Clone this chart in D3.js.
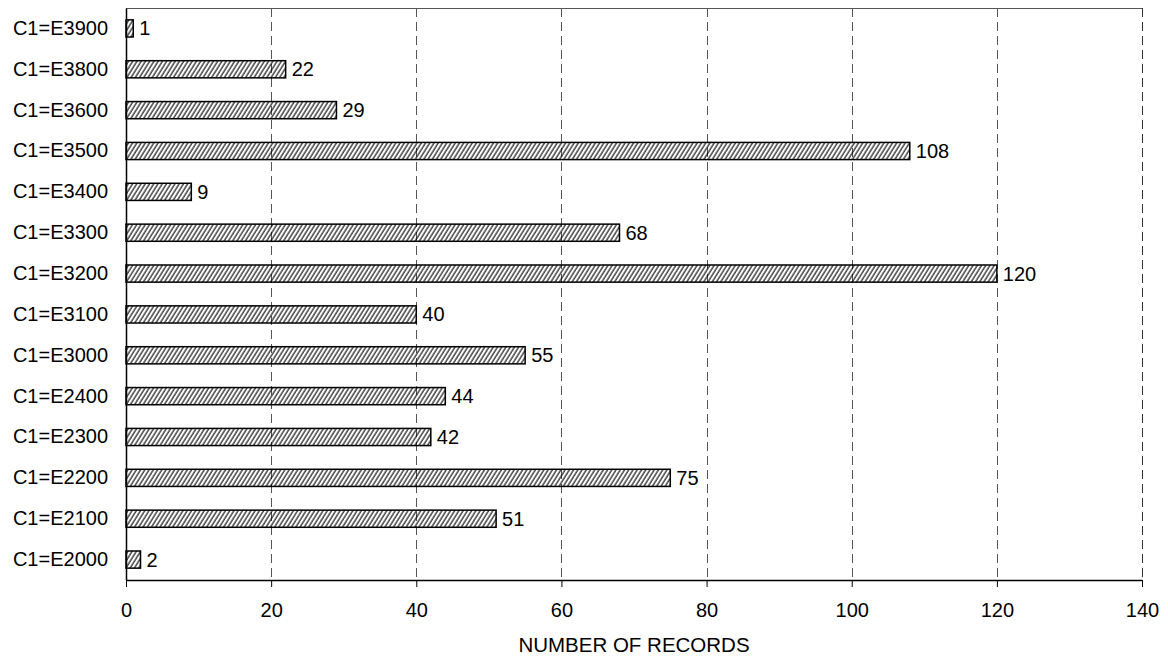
<!DOCTYPE html>
<html lang="en">
<head>
    <meta charset="UTF-8">
    <title>Records</title>
    <script src="https://d3js.org/d3.v7.min.js"></script>
    <style>
        body { margin: 0; background: #fff; }
        text { font-family: "Liberation Sans", Arial, sans-serif; fill: #000; }
    </style>
</head>
<body>
<script type="text/javascript">
    var categories = ["C1=E3900", "C1=E3800", "C1=E3600", "C1=E3500", "C1=E3400", "C1=E3300", "C1=E3200",
        "C1=E3100", "C1=E3000", "C1=E2400", "C1=E2300", "C1=E2200", "C1=E2100", "C1=E2000"];
    var records = [1, 22, 29, 108, 9, 68, 120, 40, 55, 44, 42, 75, 51, 2];
    var xTicks = [0, 20, 40, 60, 80, 100, 120, 140];
    var xTitle = "NUMBER OF RECORDS";

    var svgWidth = 1168;
    var svgHeight = 659;
    // note: "top" is taken by window.top, so use plot* names
    var plotLeft = 126, plotRight = 1142, plotTop = 8, plotBottom = 580;

    var svg = d3.select("body").append("svg")
        .attr("width", svgWidth)
        .attr("height", svgHeight);

    // hatch fill for the bars
    svg.append("defs").append("pattern")
        .attr("id", "hatch")
        .attr("patternUnits", "userSpaceOnUse")
        .attr("width", 3.6)
        .attr("height", 4)
        .attr("patternTransform", "rotate(32)")
        .append("line")
        .attr("x1", 1).attr("y1", 0)
        .attr("x2", 1).attr("y2", 4)
        .attr("stroke", "#000")
        .attr("stroke-width", 1.1);

    var xScale = d3.scaleLinear().domain([0, 140]).range([plotLeft, plotRight]);
    var yScale = d3.scaleBand()
        .domain(categories)
        .range([plotTop, plotBottom])
        .paddingInner(0.58)
        .paddingOuter(0.29);

    // frame top line, grey
    svg.append("line")
        .attr("x1", plotLeft).attr("x2", plotRight).attr("y1", plotTop + 0.5).attr("y2", plotTop + 0.5)
        .attr("stroke", "#555").attr("stroke-width", 1.2);

    // dashed grid lines
    svg.append("g").selectAll("line")
        .data(xTicks.filter(function (d) { return d > 0; }))
        .enter()
        .append("line")
        .attr("x1", function (d) { return Math.round(xScale(d)) + 0.5; })
        .attr("x2", function (d) { return Math.round(xScale(d)) + 0.5; })
        .attr("y1", plotTop)
        .attr("y2", plotBottom)
        .attr("stroke", function (d) { return d === 140 ? "#333" : "#555"; })
        .attr("stroke-width", 1)
        .attr("stroke-dasharray", "9,5");

    // bars
    var data = categories.map(function (c, i) { return {cat: c, value: records[i]}; });

    svg.append("g").selectAll("rect")
        .data(data)
        .enter()
        .append("rect")
        .attr("x", xScale(0))
        .attr("y", function (d) { return yScale(d.cat); })
        .attr("width", function (d) { return xScale(d.value) - xScale(0); })
        .attr("height", yScale.bandwidth())
        .attr("fill", "url(#hatch)")
        .attr("stroke", "#000")
        .attr("stroke-width", 1.5);

    svg.append("g").selectAll("text")
        .data(data)
        .enter()
        .append("text")
        .attr("x", function (d) { return xScale(d.value) + 6; })
        .attr("y", function (d) { return yScale(d.cat) + yScale.bandwidth() / 2; })
        .attr("dy", "0.35em")
        .attr("font-size", "20px")
        .text(function (d) { return d.value; });

    // y axis
    var yAxis = svg.append("g")
        .attr("transform", "translate(" + plotLeft + ",0)")
        .call(d3.axisLeft(yScale).tickSize(0).tickPadding(18).tickSizeOuter(0));
    yAxis.select(".domain").attr("stroke", "#000").attr("stroke-width", 1.5);
    yAxis.selectAll("text").attr("font-size", "20px").attr("font-family", null);

    // x axis
    var xAxis = svg.append("g")
        .attr("transform", "translate(0," + plotBottom + ")")
        .call(d3.axisBottom(xScale).tickValues(xTicks).tickSize(7).tickPadding(16).tickSizeOuter(0));
    xAxis.select(".domain").attr("stroke", "#000").attr("stroke-width", 1.5);
    xAxis.selectAll("line").attr("stroke", "#000");
    xAxis.selectAll("text").attr("font-size", "20px").attr("font-family", null);

    svg.append("text")
        .attr("x", (plotLeft + plotRight) / 2)
        .attr("y", 652)
        .attr("text-anchor", "middle")
        .attr("font-size", "20.5px")
        .text(xTitle);
</script>
</body>
</html>
